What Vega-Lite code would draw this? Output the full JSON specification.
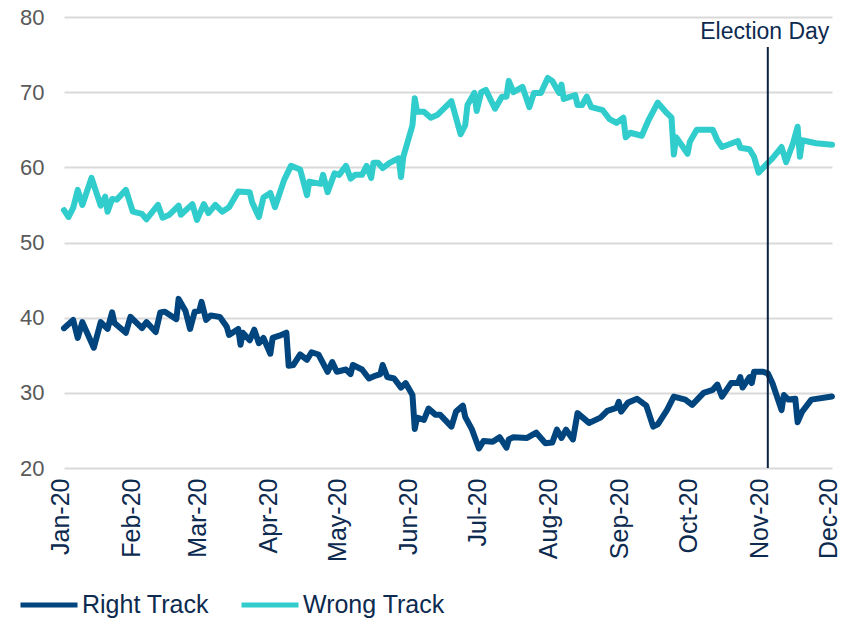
{
  "$schema": "https://vega.github.io/schema/vega-lite/v6.json",
  "width": 768,
  "height": 451,
  "autosize": {"type": "none"},
  "padding": {"left": 64, "top": 17, "right": 10, "bottom": 150},
  "background": "white",
  "config": {
    "view": {"stroke": null},
    "font": "Liberation Sans",
    "axis": {"labelFont": "Liberation Sans"},
    "legend": {"labelFont": "Liberation Sans"}
  },
  "datasets": {
    "track": [
      {"date": "2020-01-01", "series": "Wrong Track", "value": 54.3},
      {"date": "2020-01-03", "series": "Wrong Track", "value": 53.4},
      {"date": "2020-01-05", "series": "Wrong Track", "value": 54.6},
      {"date": "2020-01-07", "series": "Wrong Track", "value": 57.0},
      {"date": "2020-01-09", "series": "Wrong Track", "value": 55.0},
      {"date": "2020-01-13", "series": "Wrong Track", "value": 58.6},
      {"date": "2020-01-17", "series": "Wrong Track", "value": 54.9},
      {"date": "2020-01-19", "series": "Wrong Track", "value": 56.1},
      {"date": "2020-01-20", "series": "Wrong Track", "value": 54.1},
      {"date": "2020-01-22", "series": "Wrong Track", "value": 55.8},
      {"date": "2020-01-24", "series": "Wrong Track", "value": 55.7},
      {"date": "2020-01-28", "series": "Wrong Track", "value": 57.0},
      {"date": "2020-01-31", "series": "Wrong Track", "value": 54.1},
      {"date": "2020-02-04", "series": "Wrong Track", "value": 53.8},
      {"date": "2020-02-06", "series": "Wrong Track", "value": 53.1},
      {"date": "2020-02-11", "series": "Wrong Track", "value": 55.0},
      {"date": "2020-02-13", "series": "Wrong Track", "value": 53.3},
      {"date": "2020-02-16", "series": "Wrong Track", "value": 53.7},
      {"date": "2020-02-20", "series": "Wrong Track", "value": 54.9},
      {"date": "2020-02-21", "series": "Wrong Track", "value": 53.7},
      {"date": "2020-02-26", "series": "Wrong Track", "value": 55.1},
      {"date": "2020-02-28", "series": "Wrong Track", "value": 53.0},
      {"date": "2020-03-02", "series": "Wrong Track", "value": 55.1},
      {"date": "2020-03-04", "series": "Wrong Track", "value": 53.9},
      {"date": "2020-03-07", "series": "Wrong Track", "value": 55.0},
      {"date": "2020-03-10", "series": "Wrong Track", "value": 54.1},
      {"date": "2020-03-13", "series": "Wrong Track", "value": 54.7},
      {"date": "2020-03-17", "series": "Wrong Track", "value": 56.8},
      {"date": "2020-03-22", "series": "Wrong Track", "value": 56.7},
      {"date": "2020-03-23", "series": "Wrong Track", "value": 55.4},
      {"date": "2020-03-26", "series": "Wrong Track", "value": 53.4},
      {"date": "2020-03-28", "series": "Wrong Track", "value": 56.0},
      {"date": "2020-03-31", "series": "Wrong Track", "value": 56.6},
      {"date": "2020-04-02", "series": "Wrong Track", "value": 54.7},
      {"date": "2020-04-06", "series": "Wrong Track", "value": 58.3},
      {"date": "2020-04-09", "series": "Wrong Track", "value": 60.2},
      {"date": "2020-04-13", "series": "Wrong Track", "value": 59.7},
      {"date": "2020-04-16", "series": "Wrong Track", "value": 56.3},
      {"date": "2020-04-17", "series": "Wrong Track", "value": 58.1},
      {"date": "2020-04-22", "series": "Wrong Track", "value": 57.8},
      {"date": "2020-04-23", "series": "Wrong Track", "value": 59.0},
      {"date": "2020-04-25", "series": "Wrong Track", "value": 56.7},
      {"date": "2020-04-28", "series": "Wrong Track", "value": 59.2},
      {"date": "2020-04-30", "series": "Wrong Track", "value": 59.0},
      {"date": "2020-05-03", "series": "Wrong Track", "value": 60.2},
      {"date": "2020-05-05", "series": "Wrong Track", "value": 58.5},
      {"date": "2020-05-07", "series": "Wrong Track", "value": 59.0},
      {"date": "2020-05-10", "series": "Wrong Track", "value": 59.0},
      {"date": "2020-05-12", "series": "Wrong Track", "value": 60.2},
      {"date": "2020-05-14", "series": "Wrong Track", "value": 58.6},
      {"date": "2020-05-15", "series": "Wrong Track", "value": 60.6},
      {"date": "2020-05-17", "series": "Wrong Track", "value": 60.6},
      {"date": "2020-05-19", "series": "Wrong Track", "value": 59.9},
      {"date": "2020-05-22", "series": "Wrong Track", "value": 60.6},
      {"date": "2020-05-26", "series": "Wrong Track", "value": 61.2},
      {"date": "2020-05-27", "series": "Wrong Track", "value": 58.7},
      {"date": "2020-05-28", "series": "Wrong Track", "value": 61.4},
      {"date": "2020-06-01", "series": "Wrong Track", "value": 65.6},
      {"date": "2020-06-02", "series": "Wrong Track", "value": 69.2},
      {"date": "2020-06-03", "series": "Wrong Track", "value": 67.4},
      {"date": "2020-06-06", "series": "Wrong Track", "value": 67.4},
      {"date": "2020-06-09", "series": "Wrong Track", "value": 66.6},
      {"date": "2020-06-12", "series": "Wrong Track", "value": 67.0},
      {"date": "2020-06-15", "series": "Wrong Track", "value": 67.9},
      {"date": "2020-06-18", "series": "Wrong Track", "value": 68.8},
      {"date": "2020-06-22", "series": "Wrong Track", "value": 64.4},
      {"date": "2020-06-24", "series": "Wrong Track", "value": 65.6},
      {"date": "2020-06-25", "series": "Wrong Track", "value": 68.3},
      {"date": "2020-06-28", "series": "Wrong Track", "value": 69.9},
      {"date": "2020-06-29", "series": "Wrong Track", "value": 67.5},
      {"date": "2020-07-01", "series": "Wrong Track", "value": 70.0},
      {"date": "2020-07-03", "series": "Wrong Track", "value": 70.3},
      {"date": "2020-07-07", "series": "Wrong Track", "value": 67.8},
      {"date": "2020-07-10", "series": "Wrong Track", "value": 69.4},
      {"date": "2020-07-12", "series": "Wrong Track", "value": 69.4},
      {"date": "2020-07-13", "series": "Wrong Track", "value": 71.5},
      {"date": "2020-07-15", "series": "Wrong Track", "value": 70.0},
      {"date": "2020-07-19", "series": "Wrong Track", "value": 70.7},
      {"date": "2020-07-22", "series": "Wrong Track", "value": 68.0},
      {"date": "2020-07-24", "series": "Wrong Track", "value": 69.9},
      {"date": "2020-07-27", "series": "Wrong Track", "value": 69.9},
      {"date": "2020-07-30", "series": "Wrong Track", "value": 71.9},
      {"date": "2020-08-01", "series": "Wrong Track", "value": 71.5},
      {"date": "2020-08-04", "series": "Wrong Track", "value": 69.9},
      {"date": "2020-08-05", "series": "Wrong Track", "value": 71.0},
      {"date": "2020-08-06", "series": "Wrong Track", "value": 69.1},
      {"date": "2020-08-11", "series": "Wrong Track", "value": 69.6},
      {"date": "2020-08-12", "series": "Wrong Track", "value": 68.3},
      {"date": "2020-08-14", "series": "Wrong Track", "value": 68.3},
      {"date": "2020-08-16", "series": "Wrong Track", "value": 69.4},
      {"date": "2020-08-18", "series": "Wrong Track", "value": 68.0},
      {"date": "2020-08-23", "series": "Wrong Track", "value": 67.6},
      {"date": "2020-08-26", "series": "Wrong Track", "value": 66.4},
      {"date": "2020-08-29", "series": "Wrong Track", "value": 65.9},
      {"date": "2020-09-01", "series": "Wrong Track", "value": 66.6},
      {"date": "2020-09-02", "series": "Wrong Track", "value": 64.0},
      {"date": "2020-09-04", "series": "Wrong Track", "value": 64.6},
      {"date": "2020-09-09", "series": "Wrong Track", "value": 64.2},
      {"date": "2020-09-12", "series": "Wrong Track", "value": 66.3},
      {"date": "2020-09-16", "series": "Wrong Track", "value": 68.6},
      {"date": "2020-09-20", "series": "Wrong Track", "value": 67.2},
      {"date": "2020-09-22", "series": "Wrong Track", "value": 66.6},
      {"date": "2020-09-23", "series": "Wrong Track", "value": 61.7},
      {"date": "2020-09-24", "series": "Wrong Track", "value": 64.0},
      {"date": "2020-09-27", "series": "Wrong Track", "value": 62.7},
      {"date": "2020-09-29", "series": "Wrong Track", "value": 61.8},
      {"date": "2020-09-30", "series": "Wrong Track", "value": 63.4},
      {"date": "2020-10-03", "series": "Wrong Track", "value": 65.0},
      {"date": "2020-10-10", "series": "Wrong Track", "value": 65.0},
      {"date": "2020-10-12", "series": "Wrong Track", "value": 63.6},
      {"date": "2020-10-14", "series": "Wrong Track", "value": 62.7},
      {"date": "2020-10-21", "series": "Wrong Track", "value": 63.5},
      {"date": "2020-10-22", "series": "Wrong Track", "value": 62.6},
      {"date": "2020-10-26", "series": "Wrong Track", "value": 62.4},
      {"date": "2020-10-28", "series": "Wrong Track", "value": 61.4},
      {"date": "2020-10-30", "series": "Wrong Track", "value": 59.3},
      {"date": "2020-11-03", "series": "Wrong Track", "value": 60.6},
      {"date": "2020-11-05", "series": "Wrong Track", "value": 61.2},
      {"date": "2020-11-09", "series": "Wrong Track", "value": 62.7},
      {"date": "2020-11-11", "series": "Wrong Track", "value": 60.7},
      {"date": "2020-11-14", "series": "Wrong Track", "value": 63.2},
      {"date": "2020-11-16", "series": "Wrong Track", "value": 65.4},
      {"date": "2020-11-17", "series": "Wrong Track", "value": 61.4},
      {"date": "2020-11-18", "series": "Wrong Track", "value": 63.6},
      {"date": "2020-11-24", "series": "Wrong Track", "value": 63.2},
      {"date": "2020-12-01", "series": "Wrong Track", "value": 63.0},
      {"date": "2020-01-01", "series": "Right Track", "value": 38.6},
      {"date": "2020-01-05", "series": "Right Track", "value": 39.7},
      {"date": "2020-01-07", "series": "Right Track", "value": 37.3},
      {"date": "2020-01-09", "series": "Right Track", "value": 39.4},
      {"date": "2020-01-14", "series": "Right Track", "value": 36.0},
      {"date": "2020-01-17", "series": "Right Track", "value": 39.4},
      {"date": "2020-01-20", "series": "Right Track", "value": 38.5},
      {"date": "2020-01-22", "series": "Right Track", "value": 40.7},
      {"date": "2020-01-23", "series": "Right Track", "value": 39.3},
      {"date": "2020-01-28", "series": "Right Track", "value": 38.0},
      {"date": "2020-01-30", "series": "Right Track", "value": 40.1},
      {"date": "2020-02-04", "series": "Right Track", "value": 38.6},
      {"date": "2020-02-06", "series": "Right Track", "value": 39.4},
      {"date": "2020-02-10", "series": "Right Track", "value": 38.1},
      {"date": "2020-02-12", "series": "Right Track", "value": 40.7},
      {"date": "2020-02-14", "series": "Right Track", "value": 40.8},
      {"date": "2020-02-19", "series": "Right Track", "value": 39.8},
      {"date": "2020-02-20", "series": "Right Track", "value": 42.5},
      {"date": "2020-02-23", "series": "Right Track", "value": 40.9},
      {"date": "2020-02-25", "series": "Right Track", "value": 38.5},
      {"date": "2020-02-27", "series": "Right Track", "value": 40.8},
      {"date": "2020-02-29", "series": "Right Track", "value": 40.9},
      {"date": "2020-03-01", "series": "Right Track", "value": 42.1},
      {"date": "2020-03-03", "series": "Right Track", "value": 39.7},
      {"date": "2020-03-05", "series": "Right Track", "value": 40.3},
      {"date": "2020-03-09", "series": "Right Track", "value": 40.1},
      {"date": "2020-03-12", "series": "Right Track", "value": 38.8},
      {"date": "2020-03-13", "series": "Right Track", "value": 37.7},
      {"date": "2020-03-17", "series": "Right Track", "value": 38.5},
      {"date": "2020-03-18", "series": "Right Track", "value": 36.4},
      {"date": "2020-03-19", "series": "Right Track", "value": 38.0},
      {"date": "2020-03-22", "series": "Right Track", "value": 37.0},
      {"date": "2020-03-24", "series": "Right Track", "value": 38.4},
      {"date": "2020-03-26", "series": "Right Track", "value": 36.6},
      {"date": "2020-03-28", "series": "Right Track", "value": 37.3},
      {"date": "2020-03-31", "series": "Right Track", "value": 35.2},
      {"date": "2020-04-01", "series": "Right Track", "value": 37.3},
      {"date": "2020-04-04", "series": "Right Track", "value": 37.6},
      {"date": "2020-04-07", "series": "Right Track", "value": 38.0},
      {"date": "2020-04-08", "series": "Right Track", "value": 33.6},
      {"date": "2020-04-10", "series": "Right Track", "value": 33.7},
      {"date": "2020-04-13", "series": "Right Track", "value": 35.1},
      {"date": "2020-04-16", "series": "Right Track", "value": 34.4},
      {"date": "2020-04-18", "series": "Right Track", "value": 35.4},
      {"date": "2020-04-21", "series": "Right Track", "value": 35.1},
      {"date": "2020-04-25", "series": "Right Track", "value": 32.8},
      {"date": "2020-04-27", "series": "Right Track", "value": 34.1},
      {"date": "2020-04-29", "series": "Right Track", "value": 32.8},
      {"date": "2020-05-03", "series": "Right Track", "value": 33.1},
      {"date": "2020-05-05", "series": "Right Track", "value": 32.5},
      {"date": "2020-05-06", "series": "Right Track", "value": 33.7},
      {"date": "2020-05-10", "series": "Right Track", "value": 33.1},
      {"date": "2020-05-13", "series": "Right Track", "value": 31.9},
      {"date": "2020-05-16", "series": "Right Track", "value": 32.3},
      {"date": "2020-05-18", "series": "Right Track", "value": 32.5},
      {"date": "2020-05-19", "series": "Right Track", "value": 33.7},
      {"date": "2020-05-21", "series": "Right Track", "value": 32.1},
      {"date": "2020-05-24", "series": "Right Track", "value": 31.9},
      {"date": "2020-05-27", "series": "Right Track", "value": 30.7},
      {"date": "2020-05-29", "series": "Right Track", "value": 31.3},
      {"date": "2020-06-01", "series": "Right Track", "value": 29.7},
      {"date": "2020-06-02", "series": "Right Track", "value": 25.2},
      {"date": "2020-06-03", "series": "Right Track", "value": 26.7},
      {"date": "2020-06-06", "series": "Right Track", "value": 26.4},
      {"date": "2020-06-08", "series": "Right Track", "value": 27.9},
      {"date": "2020-06-11", "series": "Right Track", "value": 27.1},
      {"date": "2020-06-13", "series": "Right Track", "value": 27.1},
      {"date": "2020-06-18", "series": "Right Track", "value": 25.5},
      {"date": "2020-06-20", "series": "Right Track", "value": 27.5},
      {"date": "2020-06-23", "series": "Right Track", "value": 28.3},
      {"date": "2020-06-24", "series": "Right Track", "value": 26.8},
      {"date": "2020-06-27", "series": "Right Track", "value": 25.1},
      {"date": "2020-06-30", "series": "Right Track", "value": 22.6},
      {"date": "2020-07-02", "series": "Right Track", "value": 23.6},
      {"date": "2020-07-06", "series": "Right Track", "value": 23.5},
      {"date": "2020-07-09", "series": "Right Track", "value": 24.1},
      {"date": "2020-07-12", "series": "Right Track", "value": 22.7},
      {"date": "2020-07-13", "series": "Right Track", "value": 23.8},
      {"date": "2020-07-15", "series": "Right Track", "value": 24.1},
      {"date": "2020-07-21", "series": "Right Track", "value": 24.0},
      {"date": "2020-07-25", "series": "Right Track", "value": 24.7},
      {"date": "2020-07-29", "series": "Right Track", "value": 23.3},
      {"date": "2020-08-01", "series": "Right Track", "value": 23.4},
      {"date": "2020-08-03", "series": "Right Track", "value": 25.1},
      {"date": "2020-08-05", "series": "Right Track", "value": 24.0},
      {"date": "2020-08-07", "series": "Right Track", "value": 25.1},
      {"date": "2020-08-10", "series": "Right Track", "value": 23.8},
      {"date": "2020-08-12", "series": "Right Track", "value": 27.3},
      {"date": "2020-08-17", "series": "Right Track", "value": 26.0},
      {"date": "2020-08-22", "series": "Right Track", "value": 26.7},
      {"date": "2020-08-25", "series": "Right Track", "value": 27.6},
      {"date": "2020-08-29", "series": "Right Track", "value": 28.0},
      {"date": "2020-08-30", "series": "Right Track", "value": 28.8},
      {"date": "2020-08-31", "series": "Right Track", "value": 27.5},
      {"date": "2020-09-03", "series": "Right Track", "value": 28.7},
      {"date": "2020-09-07", "series": "Right Track", "value": 29.2},
      {"date": "2020-09-11", "series": "Right Track", "value": 28.3},
      {"date": "2020-09-14", "series": "Right Track", "value": 25.5},
      {"date": "2020-09-16", "series": "Right Track", "value": 25.8},
      {"date": "2020-09-20", "series": "Right Track", "value": 27.7},
      {"date": "2020-09-23", "series": "Right Track", "value": 29.5},
      {"date": "2020-09-28", "series": "Right Track", "value": 29.1},
      {"date": "2020-10-01", "series": "Right Track", "value": 28.4},
      {"date": "2020-10-06", "series": "Right Track", "value": 30.0},
      {"date": "2020-10-10", "series": "Right Track", "value": 30.4},
      {"date": "2020-10-12", "series": "Right Track", "value": 31.1},
      {"date": "2020-10-14", "series": "Right Track", "value": 29.5},
      {"date": "2020-10-18", "series": "Right Track", "value": 31.3},
      {"date": "2020-10-21", "series": "Right Track", "value": 31.3},
      {"date": "2020-10-22", "series": "Right Track", "value": 32.1},
      {"date": "2020-10-23", "series": "Right Track", "value": 30.7},
      {"date": "2020-10-26", "series": "Right Track", "value": 32.1},
      {"date": "2020-10-27", "series": "Right Track", "value": 31.3},
      {"date": "2020-10-28", "series": "Right Track", "value": 32.8},
      {"date": "2020-11-01", "series": "Right Track", "value": 32.8},
      {"date": "2020-11-03", "series": "Right Track", "value": 32.6},
      {"date": "2020-11-05", "series": "Right Track", "value": 31.3},
      {"date": "2020-11-09", "series": "Right Track", "value": 27.7},
      {"date": "2020-11-10", "series": "Right Track", "value": 29.7},
      {"date": "2020-11-12", "series": "Right Track", "value": 29.1},
      {"date": "2020-11-15", "series": "Right Track", "value": 29.2},
      {"date": "2020-11-16", "series": "Right Track", "value": 26.1},
      {"date": "2020-11-18", "series": "Right Track", "value": 27.5},
      {"date": "2020-11-22", "series": "Right Track", "value": 29.1},
      {"date": "2020-12-01", "series": "Right Track", "value": 29.5}
    ],
    "election": [
      {"date": "2020-11-03", "bottom": 20, "top": 76, "labelY": 78, "label": "Election Day"}
    ]
  },
  "layer": [
    {
      "data": {"name": "track"},
      "mark": {"type": "line", "strokeWidth": 6, "strokeJoin": "round", "strokeCap": "round"},
      "encoding": {
        "x": {
          "field": "date",
          "type": "temporal",
          "scale": {"type": "utc", "domain": [{"year": 2020, "month": 1, "date": 1, "utc": true}, {"year": 2020, "month": 12, "date": 1, "utc": true}]},
          "axis": {
            "title": null,
            "values": [
              {"year": 2020, "month": 1, "date": 1, "utc": true},
              {"year": 2020, "month": 2, "date": 1, "utc": true},
              {"year": 2020, "month": 3, "date": 1, "utc": true},
              {"year": 2020, "month": 4, "date": 1, "utc": true},
              {"year": 2020, "month": 5, "date": 1, "utc": true},
              {"year": 2020, "month": 6, "date": 1, "utc": true},
              {"year": 2020, "month": 7, "date": 1, "utc": true},
              {"year": 2020, "month": 8, "date": 1, "utc": true},
              {"year": 2020, "month": 9, "date": 1, "utc": true},
              {"year": 2020, "month": 10, "date": 1, "utc": true},
              {"year": 2020, "month": 11, "date": 1, "utc": true},
              {"year": 2020, "month": 12, "date": 1, "utc": true}
            ],
            "labelExpr": "utcFormat(datum.value, '%b-%y')",
            "labelAngle": 270,
            "labelAlign": "right",
            "labelBaseline": "middle",
            "labelFontSize": 25,
            "labelColor": "#0d2a4f",
            "labelPadding": 10,
            "labelOffset": -4,
            "labelOverlap": false,
            "labelFlush": false,
            "ticks": false,
            "domain": false,
            "grid": false
          }
        },
        "y": {
          "field": "value",
          "type": "quantitative",
          "scale": {"domain": [20, 80], "nice": false, "zero": false},
          "axis": {
            "title": null,
            "values": [20, 30, 40, 50, 60, 70, 80],
            "labelFontSize": 22,
            "labelColor": "#595959",
            "labelPadding": 20,
            "ticks": false,
            "domain": false,
            "grid": true,
            "gridColor": "#d9d9d9",
            "gridWidth": 2
          }
        },
        "color": {
          "field": "series",
          "type": "nominal",
          "scale": {"domain": ["Right Track", "Wrong Track"], "range": ["#00457e", "#31cccc"]},
          "legend": {
            "title": null,
            "orient": "none",
            "legendX": -46,
            "legendY": 557,
            "direction": "horizontal",
            "symbolType": "stroke",
            "symbolSize": 3249,
            "symbolStrokeWidth": 5,
            "labelFontSize": 25,
            "labelColor": "#0d2a4f",
            "labelOffset": 2,
            "columnPadding": 22,
            "labelLimit": 300
          }
        }
      }
    },
    {
      "data": {"name": "election"},
      "mark": {"type": "rule", "color": "#0c2340", "strokeWidth": 2},
      "encoding": {
        "x": {"field": "date", "type": "temporal"},
        "y": {"field": "bottom", "type": "quantitative"},
        "y2": {"field": "top"}
      }
    },
    {
      "data": {"name": "election"},
      "mark": {"type": "text", "fontSize": 23, "color": "#0d2a4f", "align": "center", "baseline": "middle", "dx": -3},
      "encoding": {
        "x": {"field": "date", "type": "temporal"},
        "y": {"field": "labelY", "type": "quantitative"},
        "text": {"field": "label"}
      }
    }
  ]
}
